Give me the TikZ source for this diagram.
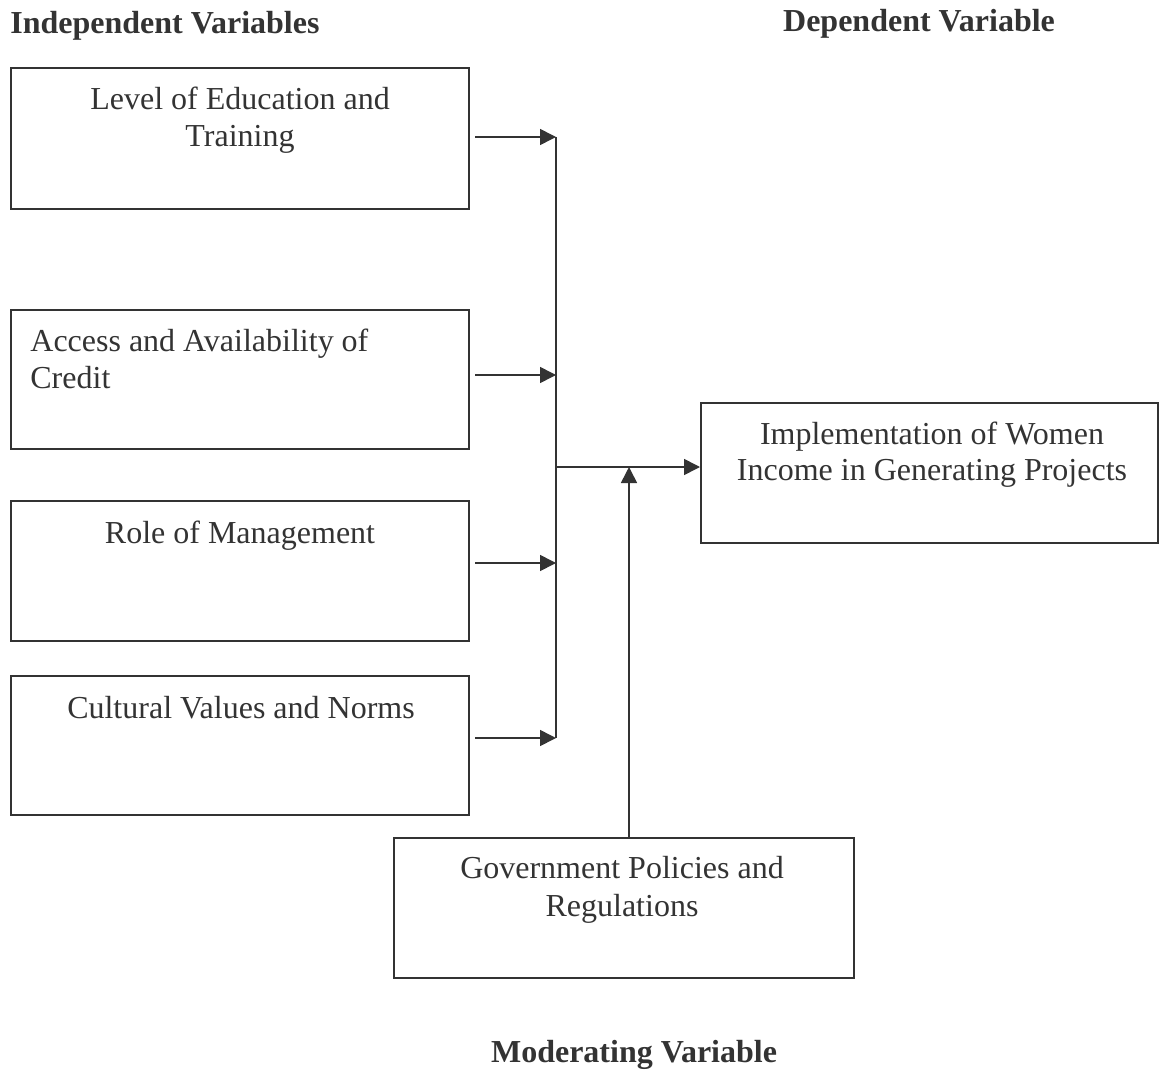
\documentclass[tikz,border=0pt]{standalone}
\usepackage{fontspec}
\setmainfont{Liberation Serif}
\usetikzlibrary{arrows.meta}
\definecolor{ink}{HTML}{333333}
\begin{document}
\begin{tikzpicture}[x=0.5pt,y=-0.5pt,
  box/.style={draw=ink,line width=0.8pt,rectangle,inner sep=0pt,anchor=north west},
  txt/.style={inner sep=0pt,anchor=base,text=ink,font=\fontsize{16}{18.5}\selectfont},
  head/.style={inner sep=0pt,anchor=base,text=ink,font=\fontsize{16}{18.5}\selectfont\bfseries},
  conn/.style={draw=ink,line width=0.8pt},
  arr/.style={conn,-{Triangle[length=8pt,width=8pt]}}]
\useasboundingbox (0,0) rectangle (1159,1069);
% headings
\node[head,anchor=base west] (hiv) at (10,34) {Independent Variables};
\node[head] (hdv) at (919,32) {Dependent Variable};
\node[head] (hmv) at (634,1062) {Moderating Variable};
% boxes
\node[box,minimum width=229pt,minimum height=70.5pt] (b1) at (10,67) {};
\node[box,minimum width=229pt,minimum height=69.5pt] (b2) at (10,309) {};
\node[box,minimum width=229pt,minimum height=70pt] (b3) at (10,500) {};
\node[box,minimum width=229pt,minimum height=69.5pt] (b4) at (10,675) {};
\node[box,minimum width=228.5pt,minimum height=70pt] (dv) at (700,402) {};
\node[box,minimum width=230pt,minimum height=70pt] (mv) at (393,837) {};
% texts
\node[txt] (t1a) at (240,110) {Level of Education and};
\node[txt] (t1b) at (240,147) {Training};
\node[txt,anchor=base west] (t2a) at (30,351) {Access and Availability of};
\node[txt,anchor=base west] (t2b) at (30,388) {Credit};
\node[txt] (t3) at (240,543) {Role of Management};
\node[txt] (t4) at (241,718) {Cultural Values and Norms};
\node[txt] (tda) at (932,444) {Implementation of Women};
\node[txt] (tdb) at (932,480) {Income in Generating Projects};
\node[txt] (tma) at (622,878) {Government Policies and};
\node[txt] (tmb) at (622,916) {Regulations};
% junction coordinates
\coordinate (j1) at (556,137);
\coordinate (j2) at (556,375);
\coordinate (j3) at (556,563);
\coordinate (j4) at (556,738);
\coordinate (jm) at (556,467);
\coordinate (jc) at (629,467);
\coordinate (s1) at (475,137);
\coordinate (s2) at (475,375);
\coordinate (s3) at (475,563);
\coordinate (s4) at (475,738);
% connectors
\draw[conn] (j1) -- (j4);
\draw[arr] (s1) -- (j1);
\draw[arr] (s2) -- (j2);
\draw[arr] (s3) -- (j3);
\draw[arr] (s4) -- (j4);
\draw[arr] (jm) -- (jm -| dv.west);
\draw[arr] (mv.north -| jc) -- (jc);
\end{tikzpicture}
\end{document}
